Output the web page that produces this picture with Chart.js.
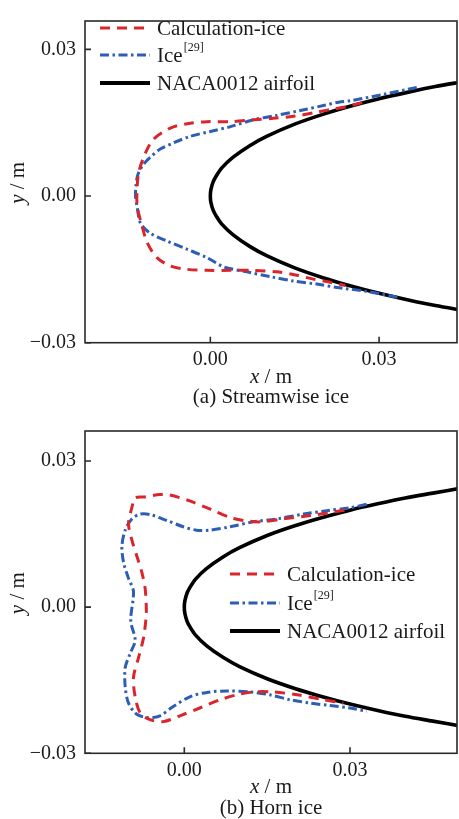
<!DOCTYPE html>
<html><head><meta charset="utf-8">
<script src="https://cdn.jsdelivr.net/npm/chart.js@4.4.0/dist/chart.umd.min.js"></script>
<style>
html,body{margin:0;padding:0;background:#fff;}
#wrap{width:459px;height:819px;position:relative;overflow:hidden;}
.box{position:absolute;left:0;width:459px;}
</style></head><body>
<div id="wrap">
<div class="box" style="top:0;height:410px"><canvas id="ca"></canvas></div>
<div class="box" style="top:410px;height:409px"><canvas id="cb"></canvas></div>
</div>
<script>
// ---------- data ----------
const seriesNames = ['Calculation-ice', 'Ice', 'NACA0012 airfoil'];
const refMark = '[29]';
const captions = ['(a) Streamwise ice', '(b) Horn ice'];
const xTicks = [0, 0.03];
const yTicks = [-0.03, 0, 0.03];

const airfoilX = [0.050,0.045,0.040,0.035,0.030,0.025,0.020,0.015,0.010,0.007,0.004,0.002,0.001,0.0005,0.0001,0,
                  0.0001,0.0005,0.001,0.002,0.004,0.007,0.010,0.015,0.020,0.025,0.030,0.035,0.040,0.045,0.050];
const airfoilY = [0.0244,0.0234,0.0224,0.0212,0.0199,0.0184,0.0167,0.0147,0.0122,0.0103,0.0079,0.0057,0.0040,0.0029,0.0013,0,
                  -0.0013,-0.0029,-0.0040,-0.0057,-0.0079,-0.0103,-0.0122,-0.0147,-0.0167,-0.0184,-0.0199,-0.0212,-0.0224,-0.0234,-0.0244];

// (a) streamwise ice
const streamCalcX = [0.0270,0.0240,0.0213,0.0183,0.0148,0.0112,0.0077,0.0036,-0.0006,-0.0041,-0.0071,-0.0101,-0.0115,-0.0127,-0.0130,
                     -0.0130,-0.0121,-0.0112,-0.0095,-0.0071,-0.0041,-0.0006,0.0036,0.0077,0.0118,0.0154,0.0183,0.0207,0.0240];
const streamCalcY = [0.0191,0.0182,0.0177,0.0170,0.0163,0.0159,0.0156,0.0152,0.0152,0.0148,0.0139,0.0116,0.0089,0.0050,0.0020,
                     -0.0020,-0.0063,-0.0096,-0.0126,-0.0143,-0.0150,-0.0152,-0.0152,-0.0152,-0.0155,-0.0162,-0.0170,-0.0175,-0.0183];
const streamRefX = [0.0367,0.0308,0.0249,0.0228,0.0201,0.0160,0.0118,0.0077,0.0036,0.0000,-0.0036,-0.0065,-0.0089,-0.0107,-0.0120,-0.0129,-0.0132,
                    -0.0133,-0.0130,-0.0124,-0.0107,-0.0077,-0.0041,-0.0006,0.0024,0.0065,0.0107,0.0148,0.0189,0.0225,0.0278,0.0337];
const streamRefY = [0.0222,0.0208,0.0195,0.0192,0.0185,0.0175,0.0165,0.0156,0.0142,0.0132,0.0122,0.0109,0.0096,0.0079,0.0063,0.0043,0.0023,
                    0.0000,-0.0023,-0.0056,-0.0076,-0.0092,-0.0109,-0.0126,-0.0145,-0.0155,-0.0165,-0.0174,-0.0180,-0.0187,-0.0195,-0.0208];

// (b) horn ice
const hornCalcX = [0.0290,0.0228,0.0179,0.0137,0.0107,0.0083,0.0047,0.0010,-0.0026,-0.0044,-0.0074,-0.0089,-0.0095,-0.0101,-0.0095,-0.0086,-0.0077,-0.0071,-0.0069,
                   -0.0069,-0.0074,-0.0083,-0.0092,-0.0089,-0.0080,-0.0062,-0.0038,-0.0008,0.0028,0.0065,0.0095,0.0125,0.0161,0.0204,0.0252,0.0288];
const hornCalcY = [0.0199,0.0188,0.0181,0.0175,0.0178,0.0184,0.0201,0.0218,0.0230,0.0231,0.0226,0.0224,0.0204,0.0171,0.0138,0.0105,0.0072,0.0039,0.0005,
                   -0.0018,-0.0064,-0.0104,-0.0144,-0.0184,-0.0217,-0.0231,-0.0235,-0.0223,-0.0207,-0.0190,-0.0180,-0.0174,-0.0174,-0.0180,-0.0190,-0.0197];
const hornRefX = [0.0330,0.0300,0.0258,0.0216,0.0167,0.0125,0.0083,0.0047,0.0022,-0.0002,-0.0032,-0.0062,-0.0080,-0.0095,-0.0107,-0.0113,-0.0110,-0.0101,-0.0092,
                  -0.0097,-0.0089,-0.0098,-0.0107,-0.0107,-0.0101,-0.0086,-0.0065,-0.0044,-0.0020,0.0010,0.0041,0.0077,0.0119,0.0155,0.0191,0.0228,0.0264,0.0300,0.0330];
const hornRefY = [0.0211,0.0204,0.0198,0.0191,0.0181,0.0175,0.0165,0.0158,0.0158,0.0165,0.0178,0.0190,0.0191,0.0181,0.0158,0.0125,0.0092,0.0059,0.0032,
                  -0.0028,-0.0068,-0.0095,-0.0124,-0.0164,-0.0197,-0.0220,-0.0227,-0.0223,-0.0204,-0.0184,-0.0175,-0.0172,-0.0174,-0.0180,-0.0190,-0.0197,-0.0202,-0.0207,-0.0214];

// ---------- helpers ----------
const pts = (xs, ys) => xs.map((v, i) => ({x: v, y: ys[i]}));
const RED = '#d9252b', BLUE = '#2d5db4', BLACK = '#000';
const DASH_RED = [10, 7], DASH_BLUE = [9, 3.5, 2.5, 3.5];
const FONT = '"Liberation Serif", "Times New Roman", serif';
const fmt = v => (v < -1e-9 ? '\u2212' : '') + Math.abs(v).toFixed(2);

const decor = {
  id: 'decor',
  afterDraw(chart, args, o) {
    const {ctx, chartArea: a, scales: {x, y}} = chart;
    ctx.save();
    // frame + inward ticks
    ctx.strokeStyle = '#2a2a2a'; ctx.lineWidth = 1.6; ctx.setLineDash([]);
    ctx.strokeRect(a.left, a.top, a.right - a.left, a.bottom - a.top);
    ctx.beginPath();
    xTicks.forEach(v => { const p = x.getPixelForValue(v); ctx.moveTo(p, a.bottom); ctx.lineTo(p, a.bottom - 6); });
    yTicks.forEach(v => { const p = y.getPixelForValue(v); ctx.moveTo(a.left, p); ctx.lineTo(a.left + 6, p); });
    ctx.stroke();
    // legend
    const styles = [[RED, DASH_RED, 3.2], [BLUE, DASH_BLUE, 3.2], [BLACK, [], 4]];
    ctx.textBaseline = 'middle'; ctx.textAlign = 'left';
    styles.forEach((s, i) => {
      const ly = o.legendY[i];
      ctx.strokeStyle = s[0]; ctx.setLineDash(s[1]); ctx.lineWidth = s[2];
      ctx.beginPath(); ctx.moveTo(o.legendX, ly); ctx.lineTo(o.legendX + 50, ly); ctx.stroke();
      ctx.setLineDash([]);
      ctx.fillStyle = '#1a1a1a';
      ctx.font = '21px ' + FONT;
      const tx = o.legendX + 57;
      ctx.fillText(seriesNames[i], tx, ly + 1);
      if (i === 1) {
        const w = ctx.measureText(seriesNames[i]).width;
        ctx.font = '12px ' + FONT;
        ctx.fillText(refMark, tx + w + 1, ly - 7);
      }
    });
    // axis titles
    ctx.fillStyle = '#1a1a1a';
    const drawMixed = (cx, cy, parts) => {
      let total = 0;
      parts.forEach(p => { ctx.font = p[1] + ' 21px ' + FONT; p.w = ctx.measureText(p[0]).width; total += p.w; });
      let sx = cx - total / 2;
      ctx.textAlign = 'left';
      parts.forEach(p => { ctx.font = p[1] + ' 21px ' + FONT; ctx.fillText(p[0], sx, cy); sx += p.w; });
    };
    const cx = (a.left + a.right) / 2, cy = (a.top + a.bottom) / 2;
    drawMixed(cx, a.bottom + o.titleDy, [['x', 'italic'], [' / m', 'normal']]);
    ctx.save(); ctx.translate(18, cy + 1); ctx.rotate(-Math.PI / 2);
    drawMixed(0, 0, [['y', 'italic'], [' / m', 'normal']]);
    ctx.restore();
    ctx.font = '21px ' + FONT; ctx.textAlign = 'center';
    ctx.fillText(o.caption, cx, a.bottom + o.captionDy);
    ctx.restore();
  }
};

function makeChart(id, calc, ref, xr, yr, xh, legend, title) {
  return new Chart(document.getElementById(id), {
    type: 'scatter',
    data: {
      datasets: [
        {label: seriesNames[2], data: pts(airfoilX, airfoilY), showLine: true, borderColor: BLACK, borderWidth: 3.6, pointRadius: 0, tension: 0.3, order: 3},
        {label: seriesNames[1], data: ref, showLine: true, borderColor: BLUE, borderDash: DASH_BLUE, borderWidth: 3, pointRadius: 0, tension: 0.3, order: 2},
        {label: seriesNames[0], data: calc, showLine: true, borderColor: RED, borderDash: DASH_RED, borderWidth: 3, pointRadius: 0, tension: 0.3, order: 1}
      ]
    },
    options: {
      animation: false, responsive: true, maintainAspectRatio: false,
      layout: {padding: {top: 11, right: 2, left: 0, bottom: 0}},
      plugins: {legend: {display: false}, tooltip: {enabled: false}, decor: Object.assign({caption: title}, legend)},
      scales: {
        x: {type: 'linear', min: xr[0], max: xr[1], grid: {display: false, drawTicks: false}, border: {display: false},
            afterBuildTicks: s => { s.ticks = xTicks.map(v => ({value: v})); },
            afterFit: s => { s.height = xh; },
            ticks: {autoSkip: false, maxRotation: 0, padding: 5, color: '#1a1a1a', font: {family: FONT, size: 20}, callback: v => fmt(v)}},
        y: {type: 'linear', min: yr[0], max: yr[1], grid: {display: false, drawTicks: false}, border: {display: false},
            afterBuildTicks: s => { s.ticks = yTicks.map(v => ({value: v})); },
            afterFit: s => { s.width = 85; },
            ticks: {autoSkip: false, padding: 9, color: '#1a1a1a', font: {family: FONT, size: 20}, callback: v => fmt(v)}}
      }
    },
    plugins: [decor]
  });
}

makeChart('ca', pts(streamCalcX, streamCalcY), pts(streamRefX, streamRefY),
  [-0.02228, 0.04385], [-0.03, 0.0358], 67.3,
  {legendX: 100, legendY: [28, 55, 83], titleDy: 35, captionDy: 55}, captions[0]);
makeChart('cb', pts(hornCalcX, hornCalcY), pts(hornRefX, hornRefY),
  [-0.01798, 0.04937], [-0.03, 0.03615], 65.7,
  {legendX: 230, legendY: [164, 193, 221], titleDy: 34, captionDy: 55.5}, captions[1]);
</script>
</body></html>
